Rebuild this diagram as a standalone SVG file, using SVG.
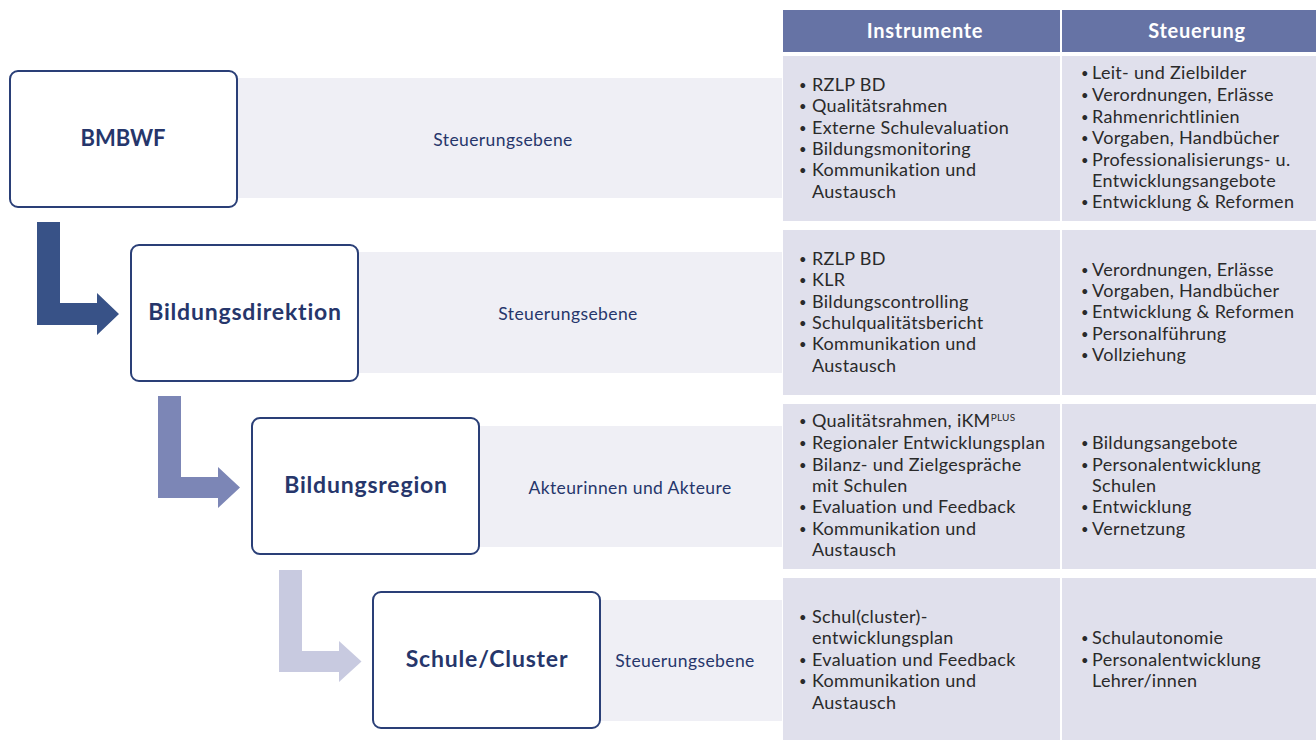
<svg xmlns="http://www.w3.org/2000/svg" width="1316" height="740" viewBox="0 0 1316 740">
<style>
.band{fill:#EFEFF5}
.box{fill:#fff;stroke:#2A3F77;stroke-width:2}
.lbl{font-family:Lato,"Liberation Sans",sans-serif;font-weight:bold;font-size:23px;letter-spacing:0.8px;fill:#26366B;text-anchor:middle}
.blbl{font-family:Lato,"Liberation Sans",sans-serif;font-size:17.5px;letter-spacing:0.4px;fill:#26366B;text-anchor:middle}
.hdr{fill:#6673A5}
.htx{font-family:Lato,"Liberation Sans",sans-serif;font-weight:bold;font-size:20px;letter-spacing:0.7px;fill:#fff;text-anchor:middle}
.cell{fill:#E0E0EC}
.ct{font-family:Lato,"Liberation Sans",sans-serif;font-size:18px;letter-spacing:0.3px;fill:#2a2a2a}
.bu{font-size:13px}
</style>
<rect width="1316" height="740" fill="#fff"/>
<g id="bands">
<rect class="band" x="237" y="78" width="545" height="120"/>
<rect class="band" x="358" y="252" width="424" height="121"/>
<rect class="band" x="479" y="426" width="303" height="121"/>
<rect class="band" x="600" y="600" width="182" height="121"/>
<text class="blbl" x="503" y="146">Steuerungsebene</text>
<text class="blbl" x="568" y="320">Steuerungsebene</text>
<text class="blbl" x="630" y="494">Akteurinnen und Akteure</text>
<text class="blbl" x="685" y="667">Steuerungsebene</text>
</g>
<g id="connectors">
<path fill="#385287" d="M37,222 H60 V303 H97 V293 L119,314 L97,335 V325 H37 Z"/>
<path fill="#7C86B6" d="M158,396 H181 V477 H218 V467 L240,487.5 L218,508 V498 H158 Z"/>
<path fill="#C8CAE0" d="M279,570 H302 V651 H339 V641 L361.5,661.5 L339,682 V672 H279 Z"/>
</g>
<g id="node-bmbwf">
<rect class="box" x="10" y="71" width="227" height="136" rx="8"/>
<text class="lbl" x="123" y="146" style="font-size:22px;letter-spacing:0">BMBWF</text>
</g>
<g id="node-bildungsdirektion">
<rect class="box" x="131" y="245" width="227" height="136" rx="8"/>
<text class="lbl" x="245" y="320">Bildungsdirektion</text>
</g>
<g id="node-bildungsregion">
<rect class="box" x="252" y="418" width="227" height="136" rx="8"/>
<text class="lbl" x="366" y="493">Bildungsregion</text>
</g>
<g id="node-schule">
<rect class="box" x="373" y="592" width="227" height="136" rx="8"/>
<text class="lbl" x="487" y="667">Schule/Cluster</text>
</g>
<g id="table">
<rect class="hdr" x="783" y="10" width="277" height="42"/>
<rect class="hdr" x="1062" y="10" width="254" height="42"/>
<text class="htx" x="925" y="38">Instrumente</text>
<text class="htx" x="1197" y="38">Steuerung</text>
<rect class="cell" x="783" y="56" width="277" height="165"/>
<rect class="cell" x="1062" y="56" width="254" height="165"/>
<rect class="cell" x="783" y="230" width="277" height="165"/>
<rect class="cell" x="1062" y="230" width="254" height="165"/>
<rect class="cell" x="783" y="404" width="277" height="165"/>
<rect class="cell" x="1062" y="404" width="254" height="165"/>
<rect class="cell" x="783" y="578" width="277" height="162"/>
<rect class="cell" x="1062" y="578" width="254" height="162"/>
<g class="ct">
<text class="bu" x="799" y="90">•</text><text x="812" y="91">RZLP BD</text>
<text class="bu" x="799" y="111">•</text><text x="812" y="112">Qualitätsrahmen</text>
<text class="bu" x="799" y="133">•</text><text x="812" y="134">Externe Schulevaluation</text>
<text class="bu" x="799" y="154">•</text><text x="812" y="155">Bildungsmonitoring</text>
<text class="bu" x="799" y="175">•</text><text x="812" y="176">Kommunikation und</text>
<text x="812" y="198">Austausch</text>
<text class="bu" x="1081" y="78">•</text><text x="1092" y="79">Leit- und Zielbilder</text>
<text class="bu" x="1081" y="100">•</text><text x="1092" y="101">Verordnungen, Erlässe</text>
<text class="bu" x="1081" y="122">•</text><text x="1092" y="123">Rahmenrichtlinien</text>
<text class="bu" x="1081" y="143">•</text><text x="1092" y="144">Vorgaben, Handbücher</text>
<text class="bu" x="1081" y="165">•</text><text x="1092" y="166">Professionalisierungs- u.</text>
<text x="1092" y="187">Entwicklungsangebote</text>
<text class="bu" x="1081" y="207">•</text><text x="1092" y="208">Entwicklung &amp; Reformen</text>
<text class="bu" x="799" y="264">•</text><text x="812" y="265">RZLP BD</text>
<text class="bu" x="799" y="285">•</text><text x="812" y="286">KLR</text>
<text class="bu" x="799" y="307">•</text><text x="812" y="308">Bildungscontrolling</text>
<text class="bu" x="799" y="328">•</text><text x="812" y="329">Schulqualitätsbericht</text>
<text class="bu" x="799" y="349">•</text><text x="812" y="350">Kommunikation und</text>
<text x="812" y="372">Austausch</text>
<text class="bu" x="1081" y="275">•</text><text x="1092" y="276">Verordnungen, Erlässe</text>
<text class="bu" x="1081" y="296">•</text><text x="1092" y="297">Vorgaben, Handbücher</text>
<text class="bu" x="1081" y="317">•</text><text x="1092" y="318">Entwicklung &amp; Reformen</text>
<text class="bu" x="1081" y="339">•</text><text x="1092" y="340">Personalführung</text>
<text class="bu" x="1081" y="360">•</text><text x="1092" y="361">Vollziehung</text>
<text class="bu" x="799" y="426">•</text><text x="812" y="427">Qualitätsrahmen, iKM<tspan font-size="10" dy="-6">PLUS</tspan></text>
<text class="bu" x="799" y="448">•</text><text x="812" y="449">Regionaler Entwicklungsplan</text>
<text class="bu" x="799" y="470">•</text><text x="812" y="471">Bilanz- und Zielgespräche</text>
<text x="812" y="492">mit Schulen</text>
<text class="bu" x="799" y="512">•</text><text x="812" y="513">Evaluation und Feedback</text>
<text class="bu" x="799" y="534">•</text><text x="812" y="535">Kommunikation und</text>
<text x="812" y="556">Austausch</text>
<text class="bu" x="1081" y="448">•</text><text x="1092" y="449">Bildungsangebote</text>
<text class="bu" x="1081" y="470">•</text><text x="1092" y="471">Personalentwicklung</text>
<text x="1092" y="492">Schulen</text>
<text class="bu" x="1081" y="512">•</text><text x="1092" y="513">Entwicklung</text>
<text class="bu" x="1081" y="534">•</text><text x="1092" y="535">Vernetzung</text>
<text class="bu" x="799" y="622">•</text><text x="812" y="623">Schul(cluster)-</text>
<text x="812" y="644">entwicklungsplan</text>
<text class="bu" x="799" y="665">•</text><text x="812" y="666">Evaluation und Feedback</text>
<text class="bu" x="799" y="686">•</text><text x="812" y="687">Kommunikation und</text>
<text x="812" y="709">Austausch</text>
<text class="bu" x="1081" y="643">•</text><text x="1092" y="644">Schulautonomie</text>
<text class="bu" x="1081" y="665">•</text><text x="1092" y="666">Personalentwicklung</text>
<text x="1092" y="687">Lehrer/innen</text>
</g>
</g>
</svg>
